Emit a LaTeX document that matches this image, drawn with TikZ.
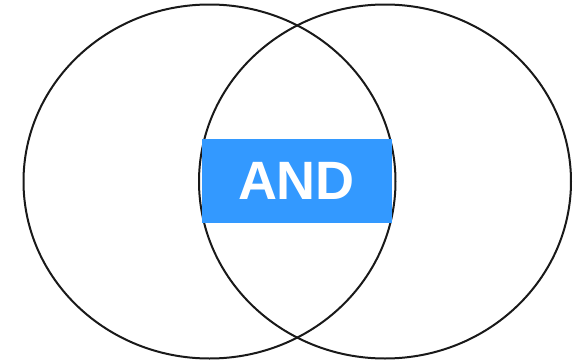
\documentclass[tikz,border=0pt]{standalone}
\usepackage{fontspec}
\usepackage{xcolor}
\usepackage{tikz}
\newfontfamily\andfont{Liberation Sans}
\definecolor{andblue}{HTML}{3399FF}

\begin{document}
\begin{tikzpicture}[x=1pt,y=-1pt]
  \useasboundingbox (0,0) rectangle (574,362);
  % the two sets
  \draw[line width=2pt,black!90] (209.5,181.5) ellipse (186 and 177);
  \draw[line width=2pt,black!90] (385,181.5) ellipse (186 and 177);
  % the overlap label
  \node[fill=andblue,text=white,inner sep=0pt,minimum width=190pt,minimum height=84pt,font=\andfont\bfseries\fontsize{54}{60}\selectfont] (andbox) at (296.5,181) {AND};
\end{tikzpicture}
\end{document}
